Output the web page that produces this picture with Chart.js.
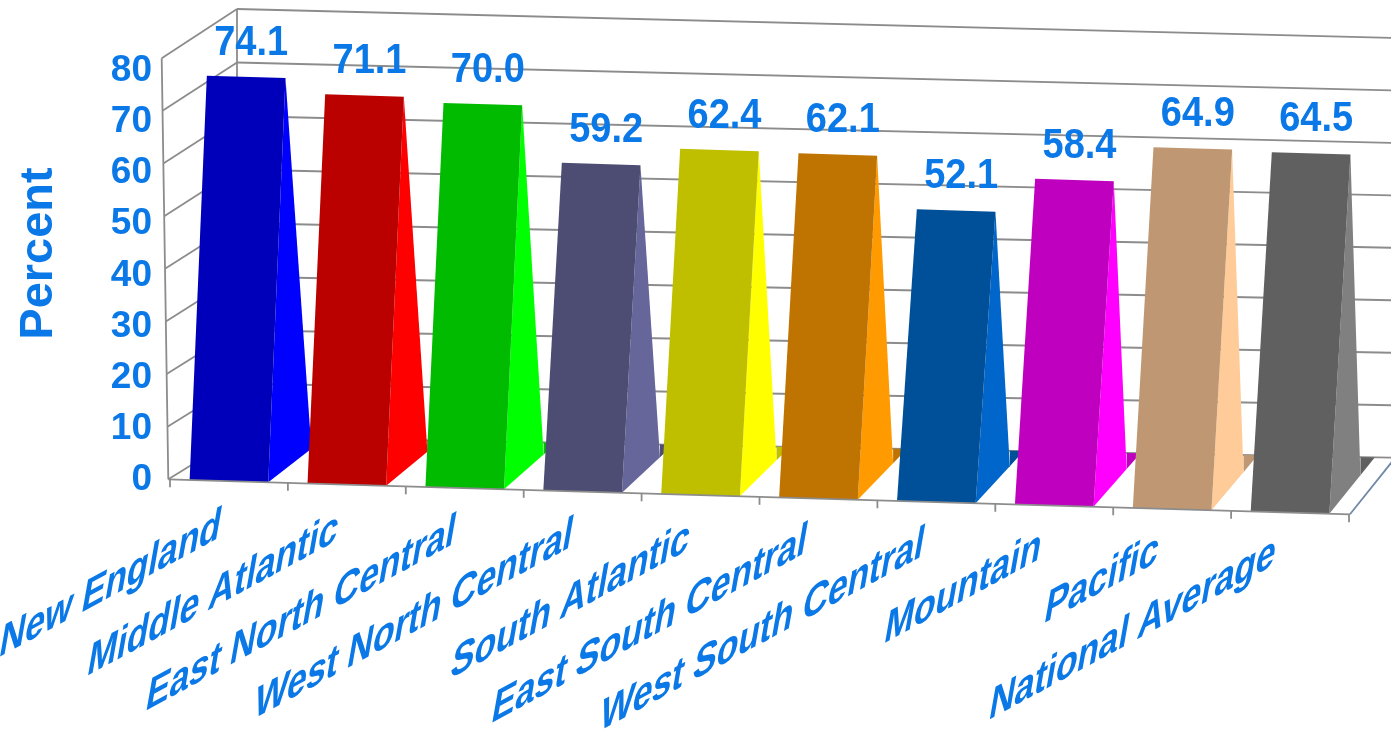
<!DOCTYPE html>
<html>
<head>
<meta charset="utf-8">
<script src="https://cdn.jsdelivr.net/npm/chart.js@4.4.1/dist/chart.umd.min.js"></script>
<style>
html,body{margin:0;padding:0;background:#ffffff;overflow:hidden}
#wrap{width:1391px;height:740px;position:relative}
</style>
</head>
<body>
<div id="wrap"><canvas id="c" width="1391" height="740"></canvas></div>
<script>
// ---- data ----
const categories = ['New England','Middle Atlantic','East North Central','West North Central','South Atlantic','East South Central','West South Central','Mountain','Pacific','National Average'];
const percentValues = [74.1, 71.1, 70.0, 59.2, 62.4, 62.1, 52.1, 58.4, 64.9, 64.5];
const yTicks = [0, 10, 20, 30, 40, 50, 60, 70, 80];
const axisTitle = 'Percent';

// ---- styles ----
const frontColors = ['#0000BB','#BB0000','#00BB00','#4D4D73','#BFBF00','#BF7300','#004F99','#BF00BF','#BF9873','#606060'];
const sideColors  = ['#0000FF','#FF0000','#00FF00','#66669A','#FFFF00','#FF9A00','#0066CC','#FF00FF','#FFCC99','#808080'];
const BLUE = '#0a78e6';
const FONT = "'Liberation Sans', Arial, Helvetica, sans-serif";
const GRID = '#8c8c8c';
const EDGE = '#7088a8';

function lerp(a, b, t) { return a + (b - a) * t; }

// 3D frame geometry derived from the chart scales
function frame(chart) {
  const ca = chart.chartArea, y = chart.scales.y;
  const Y0 = y.getPixelForValue(0);
  const U = (Y0 - y.getPixelForValue(10)) / 10;
  const g = { L: ca.left, R: ca.right, Y0, U };
  g.floorY = xx => Y0 - 0.7 + 0.0296 * (xx - (ca.left - 1.7));
  g.frontEdge = v => ({ x: ca.left - 1.7 - 6.6 * v / 80, y: Y0 - 0.7 - v * U * 1.029 });
  g.backL = ca.left + 67;
  g.backR = ca.right + 47;
  g.backY = (xx, v) => {
    const t = (xx - g.backL) / (g.backR - g.backL);
    return lerp(Y0 - 43 - v * U * 1.046, Y0 - 22.2 - v * U * 1.026, t);
  };
  g.depthSlope = xx => -0.775 - 0.4657 * (xx - (ca.left + 97)) / 1063;
  g.toBack = (P, r) => {
    const B = (g.backY(g.backR, 0) - g.backY(g.backL, 0)) / (g.backR - g.backL);
    const A = g.backY(g.backL, 0);
    const xx = (A - B * g.backL - P.y + r * P.x) / (r - B);
    return { x: xx, y: P.y + r * (xx - P.x) };
  };
  return g;
}

function line(ctx, a, b) { ctx.beginPath(); ctx.moveTo(a.x, a.y); ctx.lineTo(b.x, b.y); ctx.stroke(); }
function poly(ctx, pts, color) {
  ctx.beginPath();
  ctx.moveTo(pts[0].x, pts[0].y);
  for (let k = 1; k < pts.length; k++) ctx.lineTo(pts[k].x, pts[k].y);
  ctx.closePath();
  ctx.fillStyle = color;
  ctx.fill();
}

const threeD = {
  id: 'threeD',
  beforeDatasetsDraw(chart) {
    const ctx = chart.ctx, g = frame(chart);
    ctx.save();
    ctx.strokeStyle = GRID;
    ctx.lineWidth = 1.8;
    yTicks.forEach(v => {
      const bl = { x: g.backL, y: g.backY(g.backL, v) };
      const br = { x: g.backR, y: g.backY(g.backR, v) };
      line(ctx, bl, br);
      line(ctx, g.frontEdge(v), bl);
    });
    line(ctx, g.frontEdge(0), g.frontEdge(80));
    line(ctx, { x: g.backL, y: g.backY(g.backL, 0) }, { x: g.backL, y: g.backY(g.backL, 80) });
    ctx.restore();
  },
  afterDatasetsDraw(chart) {
    const ctx = chart.ctx, g = frame(chart);
    const meta = chart.getDatasetMeta(0);
    const xs = chart.scales.x;
    ctx.save();
    const tops = [];
    meta.data.forEach((el, i) => {
      const cx = el.x, w = el.width;
      const frac = (cx - g.L) / (g.R - g.L);
      const h = (el.base - el.y) * (1.026 + 0.018 * frac) + 15;
      const sx = 17 + 4.3 * frac;
      const BL = { x: cx - w / 2, y: g.floorY(cx - w / 2) };
      const BR = { x: cx + w / 2, y: g.floorY(cx + w / 2) };
      const TL = { x: BL.x + sx, y: BL.y - h };
      const TR = { x: BR.x + sx, y: BR.y - h };
      const BB = g.toBack(BR, g.depthSlope(BR.x));
      const sf = 0.77 - 0.09 * frac;
      const S = { x: lerp(BR.x, BB.x, sf), y: lerp(BR.y, BB.y, sf) };
      const SB = { x: S.x, y: g.backY(S.x, 0) };
      poly(ctx, [S, SB, BB], frontColors[i]);
      poly(ctx, [TR, BR, S], sideColors[i]);
      poly(ctx, [BL, BR, TR, TL], frontColors[i]);
      tops.push({ x: (TL.x + TR.x) / 2, y: (TL.y + TR.y) / 2 });
    });
    ctx.strokeStyle = GRID;
    ctx.lineWidth = 1.8;
    const fl = { x: g.L - 1.7, y: g.floorY(g.L - 1.7) };
    const fr = { x: g.R + 1, y: g.floorY(g.R + 1) };
    line(ctx, fl, fr);
    for (let j = 0; j <= categories.length; j++) {
      const tx = lerp(g.L, g.R, j / categories.length);
      line(ctx, { x: tx, y: g.floorY(tx) }, { x: tx, y: g.floorY(tx) + 8 });
    }
    ctx.strokeStyle = EDGE;
    const frB = g.toBack(fr, g.depthSlope(fr.x));
    line(ctx, fr, { x: frB.x + 20, y: frB.y + 20 * g.depthSlope(fr.x) });

    // value labels
    ctx.fillStyle = BLUE;
    ctx.font = 'bold 38px ' + FONT;
    ctx.textAlign = 'center';
    ctx.textBaseline = 'alphabetic';
    tops.forEach((t, i) => {
      ctx.save();
      ctx.translate(t.x + 5, t.y - 22);
      ctx.scale(1, 1.12);
      ctx.fillText(percentValues[i].toFixed(1), 0, 0);
      ctx.restore();
    });

    // category labels (slanted, sheared like the 3D floor)
    ctx.font = 'bold 40px ' + FONT;
    ctx.textAlign = 'right';
    ctx.textBaseline = 'alphabetic';
    const vs = 1.2;
    categories.forEach((lab, i) => {
      const cx = xs.getPixelForValue(i);
      const frac = (cx - g.L) / (g.R - g.L);
      const ax = cx - 10 - 7 * frac;
      const ay = g.floorY(cx) + 57 - 4.5 * frac;
      ctx.save();
      ctx.setTransform(0.879, -0.477, -0.174 * vs, 0.985 * vs, ax, ay);
      ctx.fillText(lab, 0, 0);
      ctx.restore();
    });

    // axis title
    ctx.save();
    ctx.font = 'bold 47px ' + FONT;
    ctx.textAlign = 'center';
    ctx.textBaseline = 'alphabetic';
    ctx.translate(g.L - 118.3, 253.5);
    ctx.rotate(-Math.PI / 2);
    ctx.fillText(axisTitle, 0, 0);
    ctx.restore();

    ctx.restore();
  }
};

new Chart(document.getElementById('c'), {
  type: 'bar',
  data: {
    labels: categories,
    datasets: [{
      label: axisTitle,
      data: percentValues,
      backgroundColor: 'rgba(0,0,0,0)',
      borderWidth: 0,
      barPercentage: 0.667,
      categoryPercentage: 1.0
    }]
  },
  options: {
    responsive: false,
    devicePixelRatio: 1,
    animation: false,
    layout: { padding: { top: 70.8, right: 42, bottom: 260, left: 0 } },
    plugins: { legend: { display: false }, tooltip: { enabled: false } },
    scales: {
      x: { type: 'category', display: false },
      y: {
        min: 0, max: 80,
        grid: { display: false, drawTicks: false },
        border: { display: false },
        afterFit: s => { s.width = 170; },
        afterBuildTicks: s => { s.ticks = yTicks.map(v => ({ value: v })); },
        ticks: {
          color: BLUE,
          padding: 18,
          font: { family: FONT, size: 37, weight: 'bold' }
        }
      }
    }
  },
  plugins: [threeD]
});
</script>
</body>
</html>
